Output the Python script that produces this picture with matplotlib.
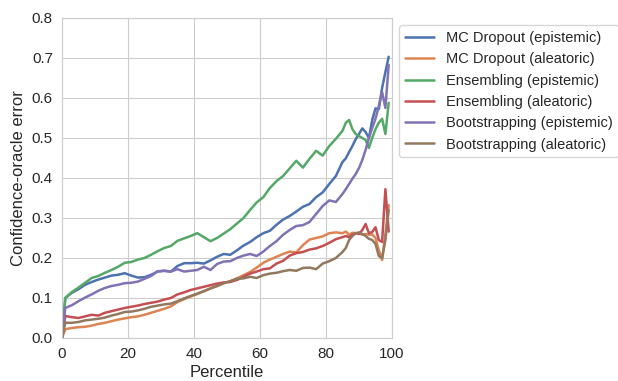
import matplotlib
matplotlib.use("Agg")
import matplotlib.pyplot as plt
import seaborn as sns

# percentile positions (x values)
percentile = [0, 1, 3, 5, 7, 9, 11, 13, 15, 17, 19, 21, 23, 25, 27, 29, 31, 33, 35, 37,
              39, 41, 43, 45, 47, 49, 51, 53, 55, 57, 59, 61, 63, 65, 67, 69, 71, 73, 75,
              77, 79, 81, 83, 85, 86, 87, 88, 89, 90, 91, 92, 93, 94, 95, 96, 97, 98, 99]

mc_epistemic = [0.0, 0.100, 0.113, 0.122, 0.133, 0.140, 0.146, 0.151, 0.156, 0.158, 0.162,
                0.156, 0.151, 0.152, 0.158, 0.166, 0.168, 0.166, 0.180, 0.187, 0.187, 0.188,
                0.186, 0.194, 0.203, 0.210, 0.208, 0.219, 0.231, 0.240, 0.252, 0.262, 0.268,
                0.283, 0.296, 0.305, 0.316, 0.328, 0.335, 0.352, 0.364, 0.385, 0.405, 0.440,
                0.449, 0.465, 0.480, 0.497, 0.510, 0.524, 0.515, 0.500, 0.545, 0.574, 0.572,
                0.625, 0.665, 0.703]

mc_aleatoric = [0.0, 0.022, 0.025, 0.027, 0.028, 0.031, 0.035, 0.038, 0.042, 0.046, 0.049,
                0.052, 0.054, 0.058, 0.063, 0.068, 0.073, 0.079, 0.090, 0.097, 0.104, 0.110,
                0.117, 0.124, 0.130, 0.137, 0.142, 0.149, 0.157, 0.165, 0.176, 0.188, 0.196,
                0.203, 0.210, 0.216, 0.214, 0.232, 0.246, 0.250, 0.254, 0.262, 0.264, 0.262,
                0.266, 0.258, 0.263, 0.262, 0.262, 0.258, 0.260, 0.258, 0.259, 0.250, 0.220,
                0.195, 0.260, 0.332]

ens_epistemic = [0.0, 0.100, 0.115, 0.126, 0.138, 0.150, 0.155, 0.163, 0.170, 0.178, 0.188,
                 0.190, 0.196, 0.200, 0.208, 0.217, 0.225, 0.230, 0.243, 0.249, 0.255, 0.262,
                 0.252, 0.242, 0.250, 0.261, 0.272, 0.286, 0.300, 0.320, 0.339, 0.352, 0.375,
                 0.392, 0.405, 0.424, 0.443, 0.426, 0.448, 0.468, 0.456, 0.480, 0.498, 0.518,
                 0.538, 0.545, 0.522, 0.510, 0.505, 0.500, 0.495, 0.475, 0.500, 0.522, 0.538,
                 0.548, 0.510, 0.588]

ens_aleatoric = [0.0, 0.055, 0.052, 0.050, 0.054, 0.058, 0.056, 0.063, 0.067, 0.071, 0.075,
                 0.078, 0.081, 0.085, 0.088, 0.091, 0.096, 0.100, 0.109, 0.114, 0.120, 0.124,
                 0.128, 0.132, 0.136, 0.139, 0.140, 0.145, 0.153, 0.161, 0.166, 0.172, 0.174,
                 0.186, 0.193, 0.206, 0.212, 0.215, 0.221, 0.224, 0.230, 0.238, 0.247, 0.252,
                 0.255, 0.252, 0.258, 0.262, 0.260, 0.270, 0.285, 0.262, 0.265, 0.277, 0.245,
                 0.240, 0.372, 0.266]

boot_epistemic = [0.0, 0.075, 0.082, 0.092, 0.101, 0.109, 0.118, 0.125, 0.130, 0.133, 0.137,
                  0.138, 0.141, 0.148, 0.155, 0.167, 0.168, 0.166, 0.172, 0.166, 0.168, 0.170,
                  0.178, 0.170, 0.185, 0.191, 0.192, 0.200, 0.206, 0.210, 0.205, 0.216, 0.230,
                  0.242, 0.258, 0.270, 0.280, 0.282, 0.290, 0.310, 0.330, 0.344, 0.340, 0.360,
                  0.372, 0.385, 0.398, 0.410, 0.425, 0.445, 0.470, 0.500, 0.525, 0.548, 0.580,
                  0.615, 0.575, 0.683]

boot_aleatoric = [0.0, 0.038, 0.038, 0.040, 0.044, 0.046, 0.048, 0.051, 0.056, 0.060, 0.065,
                  0.066, 0.069, 0.073, 0.078, 0.081, 0.084, 0.086, 0.092, 0.099, 0.105, 0.111,
                  0.117, 0.124, 0.130, 0.137, 0.142, 0.148, 0.149, 0.153, 0.150, 0.157, 0.161,
                  0.163, 0.167, 0.170, 0.168, 0.175, 0.176, 0.172, 0.186, 0.192, 0.200, 0.215,
                  0.225, 0.245, 0.255, 0.262, 0.264, 0.260, 0.255, 0.248, 0.245, 0.235, 0.205,
                  0.200, 0.245, 0.320]

series = [
    ("MC Dropout (epistemic)", mc_epistemic),
    ("MC Dropout (aleatoric)", mc_aleatoric),
    ("Ensembling (epistemic)", ens_epistemic),
    ("Ensembling (aleatoric)", ens_aleatoric),
    ("Bootstrapping (epistemic)", boot_epistemic),
    ("Bootstrapping (aleatoric)", boot_aleatoric),
]

sns.set_style("whitegrid")
plt.rcParams['font.family'] = ['Liberation Sans', 'DejaVu Sans']
colors = sns.color_palette("deep")

fig = plt.figure(figsize=(6.18, 3.81), dpi=100)
ax = fig.add_axes([0.1003, 0.1129, 0.5340, 0.8399])

for (label, values), color in zip(series, colors):
    ax.plot(percentile, values, color=color, linewidth=1.8, label=label)

ax.set_xlim(0, 100)
ax.set_ylim(0, 0.8)
ax.set_xticks([0, 20, 40, 60, 80, 100])
ax.set_yticks([0.0, 0.1, 0.2, 0.3, 0.4, 0.5, 0.6, 0.7, 0.8])
ax.tick_params(labelsize=11, pad=3)
ax.set_xlabel("Percentile", fontsize=12, labelpad=3)
ax.set_ylabel("Confidence-oracle error", fontsize=12, labelpad=4)
ax.legend(loc="upper left", bbox_to_anchor=(1.0, 1.0), fontsize=10.5, frameon=True,
          labelspacing=0.5, borderaxespad=0.5)

fig.savefig("out.png", dpi=100)
